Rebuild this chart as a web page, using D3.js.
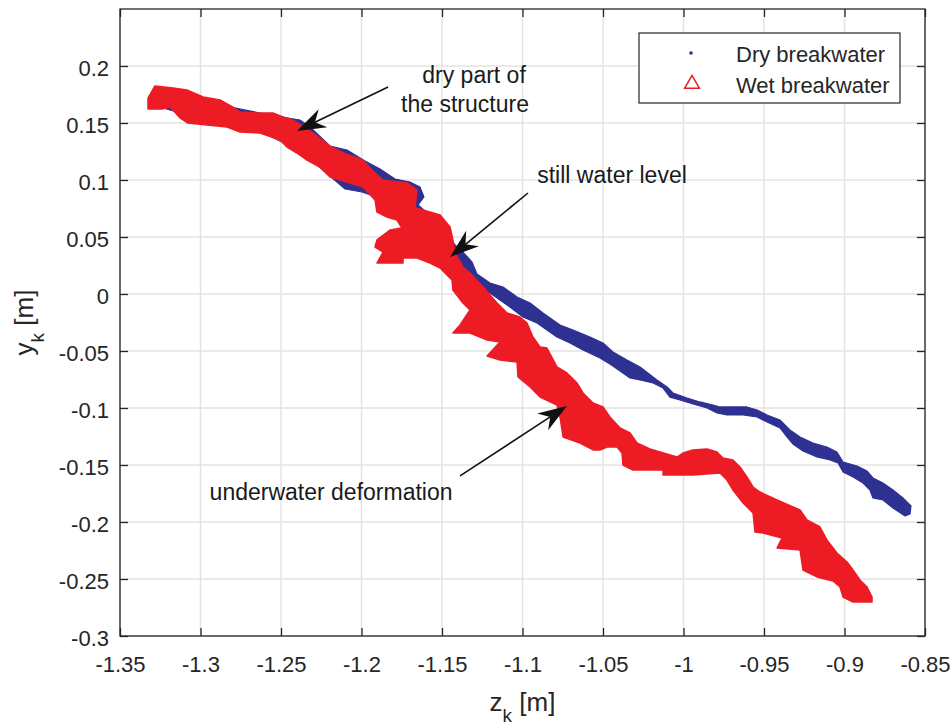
<!DOCTYPE html>
<html>
<head>
<meta charset="utf-8">
<script src="https://cdn.jsdelivr.net/npm/d3@7"></script>
<style>
  body { margin: 0; background: #fff; }
  text { font-family: "Liberation Sans", Arial, Helvetica, sans-serif; }
</style>
</head>
<body>
<div id="chart"></div>
<script>
// outline of the wet breakwater point cloud (red triangles), z_k / y_k in m
let wetZ = [-1.3326, -1.3283, -1.3171, -1.3084, -1.2984, -1.2879, -1.2798, -1.2755, -1.2649, -1.2550,
  -1.2488, -1.2425, -1.2301, -1.2196, -1.2115, -1.1991, -1.1929, -1.1866, -1.1717, -1.1655,
  -1.1668, -1.1618, -1.1512, -1.1450, -1.1432, -1.1419, -1.1370, -1.1326, -1.1245, -1.1158,
  -1.1096, -1.1016, -1.0972, -1.0935, -1.0891, -1.0848, -1.0786, -1.0724, -1.0661, -1.0624,
  -1.0562, -1.0500, -1.0457, -1.0394, -1.0332, -1.0289, -1.0208, -1.0146, -1.0040, -1.0003,
  -0.9941, -0.9854, -0.9792, -0.9755, -0.9693, -0.9649, -0.9606, -0.9568, -0.9525, -0.9419,
  -0.9320, -0.9276, -0.9233, -0.9152, -0.9109, -0.9047, -0.8984, -0.8947, -0.8904, -0.8860,
  -0.8829, -0.8829,
  -0.8947, -0.9009, -0.9028, -0.9071, -0.9171, -0.9258, -0.9276, -0.9419, -0.9388, -0.9506,
  -0.9556, -0.9568, -0.9630, -0.9693, -0.9730, -0.9773, -0.9941, -1.0127, -1.0127, -1.0314,
  -1.0376, -1.0382, -1.0413, -1.0475, -1.0519, -1.0562, -1.0643, -1.0748, -1.0767, -1.0786,
  -1.0891, -1.0953, -1.1028, -1.1034, -1.1140, -1.1220, -1.1140, -1.1220, -1.1326, -1.1432,
  -1.1388, -1.1326, -1.1370, -1.1432, -1.1438, -1.1512, -1.1575, -1.1655, -1.1742, -1.1742,
  -1.1904, -1.1866, -1.1916, -1.1904, -1.1823, -1.1748, -1.1780, -1.1842, -1.1904, -1.1916,
  -1.1991, -1.2071, -1.2152, -1.2196, -1.2258, -1.2339, -1.2401, -1.2463, -1.2506, -1.2630,
  -1.2755, -1.2835, -1.2960, -1.3078, -1.3127, -1.3171, -1.3189, -1.3239, -1.3326];
let wetY = [0.1719, 0.1825, 0.1807, 0.1789, 0.1728, 0.1702, 0.1640, 0.1596, 0.1588, 0.1588,
  0.1553, 0.1526, 0.1412, 0.1298, 0.1237, 0.1175, 0.1079, 0.1000, 0.0974, 0.0912,
  0.0754, 0.0737, 0.0693, 0.0588, 0.0474, 0.0360, 0.0237, 0.0184, 0.0061, -0.0079,
  -0.0167, -0.0202, -0.0254, -0.0377, -0.0465, -0.0474, -0.0640, -0.0693, -0.0781, -0.0868,
  -0.0956, -0.0991, -0.1079, -0.1175, -0.1219, -0.1307, -0.1360, -0.1386, -0.1430, -0.1395,
  -0.1368, -0.1360, -0.1386, -0.1439, -0.1456, -0.1518, -0.1605, -0.1693, -0.1737, -0.1807,
  -0.1868, -0.1895, -0.1982, -0.2044, -0.2158, -0.2272, -0.2351, -0.2421, -0.2509, -0.2570,
  -0.2658, -0.2702,
  -0.2702, -0.2658, -0.2570, -0.2518, -0.2482, -0.2421, -0.2246, -0.2228, -0.2140, -0.2096,
  -0.2088, -0.1921, -0.1833, -0.1719, -0.1632, -0.1570, -0.1588, -0.1588, -0.1544, -0.1544,
  -0.1500, -0.1395, -0.1342, -0.1342, -0.1368, -0.1368, -0.1307, -0.1254, -0.1079, -0.0974,
  -0.0904, -0.0816, -0.0728, -0.0596, -0.0579, -0.0544, -0.0421, -0.0404, -0.0342, -0.0342,
  -0.0272, -0.0140, -0.0079, 0.0035, 0.0123, 0.0228, 0.0272, 0.0316, 0.0316, 0.0272,
  0.0272, 0.0368, 0.0412, 0.0474, 0.0561, 0.0579, 0.0649, 0.0675, 0.0719, 0.0825,
  0.0939, 0.0974, 0.1009, 0.1026, 0.1114, 0.1175, 0.1237, 0.1289, 0.1351, 0.1412,
  0.1421, 0.1465, 0.1482, 0.1500, 0.1544, 0.1614, 0.1640, 0.1623, 0.1623];

// outline of the dry breakwater point cloud (blue dots)
let dryZ = [-1.3314, -1.3003, -1.2630, -1.2457, -1.2382, -1.2320, -1.2196, -1.2090, -1.1978, -1.1885,
  -1.1792, -1.1699, -1.1637, -1.1612, -1.1649, -1.1512, -1.1419, -1.1370, -1.1314, -1.1283,
  -1.1202, -1.1121, -1.1034, -1.0953, -1.0873, -1.0767, -1.0686, -1.0581, -1.0500, -1.0438,
  -1.0351, -1.0270, -1.0165, -1.0102, -1.0065, -0.9978, -0.9898, -0.9817, -0.9773, -0.9606,
  -0.9543, -0.9481, -0.9401, -0.9339, -0.9276, -0.9196, -0.9109, -0.9047, -0.9009, -0.8922,
  -0.8860, -0.8823, -0.8761, -0.8699, -0.8637, -0.8587, -0.8593,
  -0.8624, -0.8699, -0.8761, -0.8823, -0.8842, -0.8885, -0.8947, -0.9009, -0.9040, -0.9090,
  -0.9171, -0.9258, -0.9320, -0.9357, -0.9401, -0.9481, -0.9543, -0.9630, -0.9730, -0.9792,
  -0.9854, -0.9941, -1.0022, -1.0084, -1.0127, -1.0189, -1.0270, -1.0332, -1.0394, -1.0457,
  -1.0519, -1.0624, -1.0705, -1.0786, -1.0848, -1.0910, -1.0997, -1.1078, -1.1140, -1.1202,
  -1.1264, -1.1339, -1.1419, -1.1512, -1.1606, -1.1730, -1.1854, -1.1997, -1.2102, -1.2196,
  -1.2320, -1.2444, -1.2630, -1.3003, -1.3314];
let dryY = [0.1711, 0.1693, 0.1588, 0.1544, 0.1526, 0.1465, 0.1298, 0.1263, 0.1167, 0.1096,
  0.1009, 0.0982, 0.0939, 0.0851, 0.0781, 0.0614, 0.0430, 0.0368, 0.0281, 0.0175,
  0.0096, 0.0061, -0.0026, -0.0079, -0.0167, -0.0272, -0.0316, -0.0377, -0.0430, -0.0509,
  -0.0579, -0.0640, -0.0754, -0.0816, -0.0868, -0.0912, -0.0947, -0.0974, -0.0991, -0.0991,
  -0.1018, -0.1061, -0.1105, -0.1193, -0.1254, -0.1307, -0.1342, -0.1386, -0.1474, -0.1509,
  -0.1553, -0.1614, -0.1658, -0.1719, -0.1789, -0.1860, -0.1930,
  -0.1947, -0.1877, -0.1807, -0.1789, -0.1719, -0.1658, -0.1605, -0.1561, -0.1482, -0.1456,
  -0.1430, -0.1377, -0.1316, -0.1254, -0.1175, -0.1123, -0.1079, -0.1061, -0.1061, -0.1044,
  -0.1000, -0.0965, -0.0930, -0.0904, -0.0825, -0.0781, -0.0754, -0.0737, -0.0675, -0.0614,
  -0.0561, -0.0491, -0.0430, -0.0377, -0.0316, -0.0254, -0.0202, -0.0114, -0.0053, 0.0009,
  0.0053, 0.0105, 0.0254, 0.0474, 0.0632, 0.0737, 0.0825, 0.0895, 0.0921, 0.1035,
  0.1184, 0.1298, 0.1430, 0.1535, 0.1667];

let xTicks = [-1.35, -1.3, -1.25, -1.2, -1.15, -1.1, -1.05, -1, -0.95, -0.9, -0.85];
let yTicks = [-0.3, -0.25, -0.2, -0.15, -0.1, -0.05, 0, 0.05, 0.1, 0.15, 0.2];
let xDomain = [-1.35, -0.85];
let yDomain = [-0.3, 0.25];

let seriesNames = ['Dry breakwater', 'Wet breakwater'];
let seriesColors = ['#2e3192', '#ed1c24'];

// annotations, text anchors and arrows in data units
let noteText = ['dry part of', 'the structure', 'still water level', 'underwater deformation'];
let noteZ = [-1.1301, -1.1357, -1.0444, -1.2189];
let noteY = [0.1851, 0.1596, 0.0974, -0.1807];
let arrowFromZ = [-1.1835, -1.0966, -1.1388];
let arrowFromY = [0.1816, 0.0886, -0.1596];
let arrowToZ = [-1.2401, -1.1450, -1.0724];
let arrowToY = [0.1430, 0.0325, -0.0982];

// chart size
let svgWidth = 951;
let svgHeight = 727;
let margin = { top: 9, right: 26, bottom: 91, left: 120 };
let width = svgWidth - margin.left - margin.right;
let height = svgHeight - margin.top - margin.bottom;
let axisColor = '#262626';

let svg = d3.select('#chart')
  .append('svg')
  .attr('width', svgWidth)
  .attr('height', svgHeight)
  .style('background', '#fff');

let chartGroup = svg.append('g')
  .attr('transform', `translate(${margin.left}, ${margin.top})`);

let x = d3.scaleLinear().domain(xDomain).range([0, width]);
let y = d3.scaleLinear().domain(yDomain).range([height, 0]);

// grid
chartGroup.append('g')
  .selectAll('line')
  .data(xTicks)
  .enter()
  .append('line')
  .attr('x1', d => x(d)).attr('x2', d => x(d))
  .attr('y1', 0).attr('y2', height)
  .attr('stroke', '#e3e3e3')
  .attr('stroke-width', 1.5);

chartGroup.append('g')
  .selectAll('line')
  .data(yTicks)
  .enter()
  .append('line')
  .attr('x1', 0).attr('x2', width)
  .attr('y1', d => y(d)).attr('y2', d => y(d))
  .attr('stroke', '#e3e3e3')
  .attr('stroke-width', 1.5);

// point clouds, drawn as their outlines
svg.append('clipPath').attr('id', 'plotClip')
  .append('rect').attr('width', width).attr('height', height);

let dataGroup = chartGroup.append('g').attr('clip-path', 'url(#plotClip)');

let outline = d3.line()
  .x(d => x(d[0]))
  .y(d => y(d[1]))
  .curve(d3.curveLinearClosed);

dataGroup.append('path')
  .datum(d3.zip(dryZ, dryY))
  .attr('d', outline)
  .attr('fill', seriesColors[0])
  .attr('stroke', seriesColors[0])
  .attr('stroke-width', 1.2)
  .attr('stroke-linejoin', 'round');

dataGroup.append('path')
  .datum(d3.zip(wetZ, wetY))
  .attr('d', outline)
  .attr('fill', seriesColors[1])
  .attr('stroke', seriesColors[1])
  .attr('stroke-width', 1.5)
  .attr('stroke-linejoin', 'round');

// axes with inward ticks on all four sides
let fmt = d => String(d);

let bottomAxis = chartGroup.append('g')
  .attr('transform', `translate(0, ${height})`)
  .call(d3.axisBottom(x).tickValues(xTicks).tickSize(-8).tickSizeOuter(0).tickPadding(20).tickFormat(fmt));

let leftAxis = chartGroup.append('g')
  .call(d3.axisLeft(y).tickValues(yTicks).tickSize(-8).tickSizeOuter(0).tickPadding(11).tickFormat(fmt));

let topAxis = chartGroup.append('g')
  .call(d3.axisTop(x).tickValues(xTicks).tickSize(-8).tickSizeOuter(0).tickFormat(''));

let rightAxis = chartGroup.append('g')
  .attr('transform', `translate(${width}, 0)`)
  .call(d3.axisRight(y).tickValues(yTicks).tickSize(-8).tickSizeOuter(0).tickFormat(''));

[bottomAxis, leftAxis, topAxis, rightAxis].forEach(a => {
  a.select('.domain').remove();
  a.selectAll('line').attr('stroke', axisColor).attr('stroke-width', 1.3);
  a.selectAll('text')
    .attr('fill', axisColor)
    .style('font-size', '22px');
});
leftAxis.selectAll('text').attr('dy', '0.45em');

chartGroup.append('rect')
  .attr('width', width)
  .attr('height', height)
  .attr('fill', 'none')
  .attr('stroke', axisColor)
  .attr('stroke-width', 1.3);

// axis labels
let xLabel = chartGroup.append('text')
  .attr('x', width / 2)
  .attr('y', height + 75)
  .attr('text-anchor', 'middle')
  .attr('fill', axisColor)
  .style('font-size', '26px');
xLabel.append('tspan').text('z');
xLabel.append('tspan').attr('dy', 11).style('font-size', '19px').text('k');
xLabel.append('tspan').attr('dy', -11).text(' [m]');

let yLabel = chartGroup.append('text')
  .attr('transform', `translate(${33 - margin.left}, ${height / 2}) rotate(-90)`)
  .attr('text-anchor', 'middle')
  .attr('fill', axisColor)
  .style('font-size', '26px');
yLabel.append('tspan').text('y');
yLabel.append('tspan').attr('dy', 11).style('font-size', '19px').text('k');
yLabel.append('tspan').attr('dy', -11).text(' [m]');

// annotations
chartGroup.append('g')
  .selectAll('text')
  .data(noteText)
  .enter()
  .append('text')
  .attr('x', (d, i) => x(noteZ[i]))
  .attr('y', (d, i) => y(noteY[i]))
  .attr('text-anchor', 'middle')
  .attr('fill', '#1a1a1a')
  .style('font-size', '23px')
  .text(d => d);

function drawArrow(g, x1, y1, x2, y2) {
  let dx = x2 - x1;
  let dy = y2 - y1;
  let len = Math.hypot(dx, dy);
  let ux = dx / len;
  let uy = dy / len;
  let headLen = 29, headW = 10, notch = 20;
  let bx = x2 - ux * headLen, by = y2 - uy * headLen;
  let nx = x2 - ux * notch, ny = y2 - uy * notch;

  g.append('line')
    .attr('x1', x1).attr('y1', y1)
    .attr('x2', nx).attr('y2', ny)
    .attr('stroke', '#111')
    .attr('stroke-width', 1.6);

  g.append('path')
    .attr('d', `M${x2},${y2}L${bx - uy * headW},${by + ux * headW}L${nx},${ny}L${bx + uy * headW},${by - ux * headW}Z`)
    .attr('fill', '#111');
}

let arrowGroup = chartGroup.append('g');
arrowFromZ.forEach((z, i) => {
  drawArrow(arrowGroup, x(z), y(arrowFromY[i]), x(arrowToZ[i]), y(arrowToY[i]));
});

// legend
let legend = chartGroup.append('g')
  .attr('transform', `translate(${width - 286}, 24)`);

legend.append('rect')
  .attr('width', 261)
  .attr('height', 70)
  .attr('fill', '#fff')
  .attr('stroke', axisColor)
  .attr('stroke-width', 1.2);

legend.append('circle')
  .attr('cx', 52)
  .attr('cy', 20)
  .attr('r', 1.8)
  .attr('fill', seriesColors[0]);

legend.append('path')
  .attr('transform', 'translate(53, 51)')
  .attr('d', d3.symbol().type(d3.symbolTriangle).size(95)())
  .attr('fill', '#fff')
  .attr('stroke', seriesColors[1])
  .attr('stroke-width', 1.5);

legend.selectAll('.legendText')
  .data(seriesNames)
  .enter()
  .append('text')
  .classed('legendText', true)
  .attr('x', 97)
  .attr('y', (d, i) => 29 + i * 31)
  .attr('fill', axisColor)
  .style('font-size', '22px')
  .text(d => d);
</script>
</body>
</html>
